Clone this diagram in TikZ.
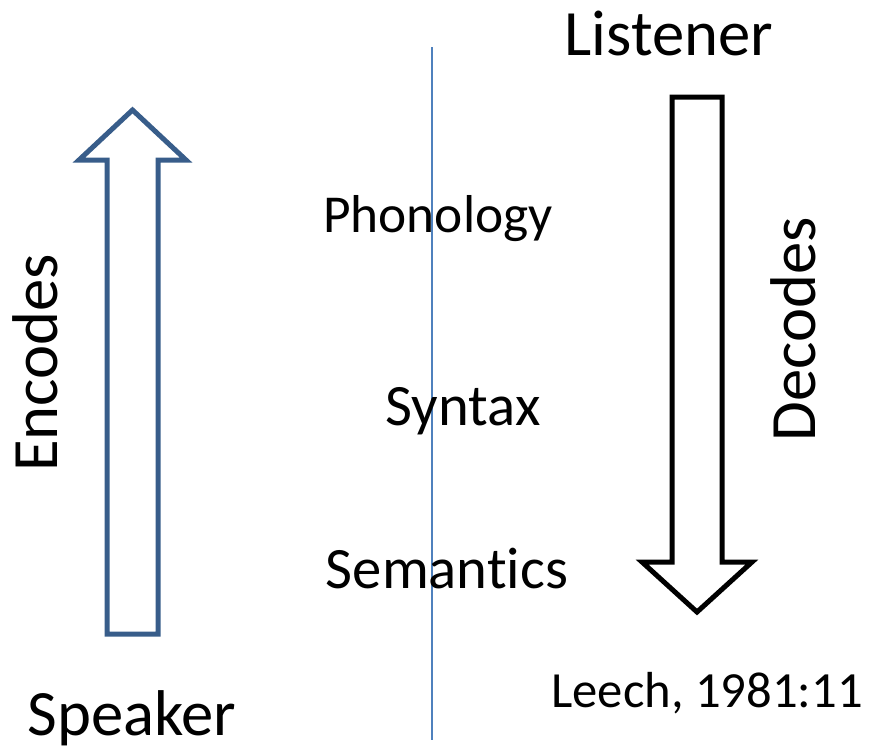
\documentclass[tikz,border=0pt]{standalone}
\usepackage{fontspec}
\setmainfont{Carlito}[Ligatures=NoCommon]
\definecolor{encblue}{RGB}{56,93,138}
\definecolor{lineblue}{RGB}{79,129,189}

\begin{document}
\begin{tikzpicture}[x=0.75pt,y=0.75pt,yscale=-1,xscale=1,
    every node/.style={inner sep=0pt},
    big/.style={font=\fontsize{48.5}{58}\selectfont},
    mid/.style={font=\fontsize{44}{53}\selectfont},
    small/.style={font=\fontsize{38}{46}\selectfont}]
    \useasboundingbox (0,0) rectangle (878,751);

    %Shape: Up Arrow [Encodes]
    \draw [color=encblue, line width=3.75] (107,634) -- (107,160) -- (79,160) -- (132.5,110) -- (186,160) -- (158,160) -- (158,634) -- cycle ;

    %Shape: Down Arrow [Decodes]
    \draw [line width=3.75] (672,97) -- (722,97) -- (722,562) -- (752,562) -- (697,612) -- (642,562) -- (672,562) -- cycle ;

    %Straight Lines
    \draw [color=lineblue, line width=1.1] (432,47) -- (432,740) ;

    % Text Node
    \node (listener) [big, anchor=base] at (669,55) {Listener};
    % Text Node
    \node (speaker) [big, anchor=base] at (132,735) {Speaker};
    % Text Node
    \node (encodes) [big, anchor=base west, rotate=90] at (57,472) {Encodes};
    % Text Node
    \node (decodes) [big, anchor=base west, rotate=90] at (815,442) {Decodes};
    % Text Node
    \node (phonology) [font=\fontsize{40}{48}\selectfont, anchor=base] at (438,232) {Phonology};
    % Text Node
    \node (syntax) [mid, anchor=base] at (463,425) {Syntax};
    % Text Node
    \node (semantics) [mid, anchor=base] at (447,588) {Semantics};
    % Text Node
    \node (leech) [small, anchor=base] at (707,707) {Leech, 1981:11};

\end{tikzpicture}
\end{document}
